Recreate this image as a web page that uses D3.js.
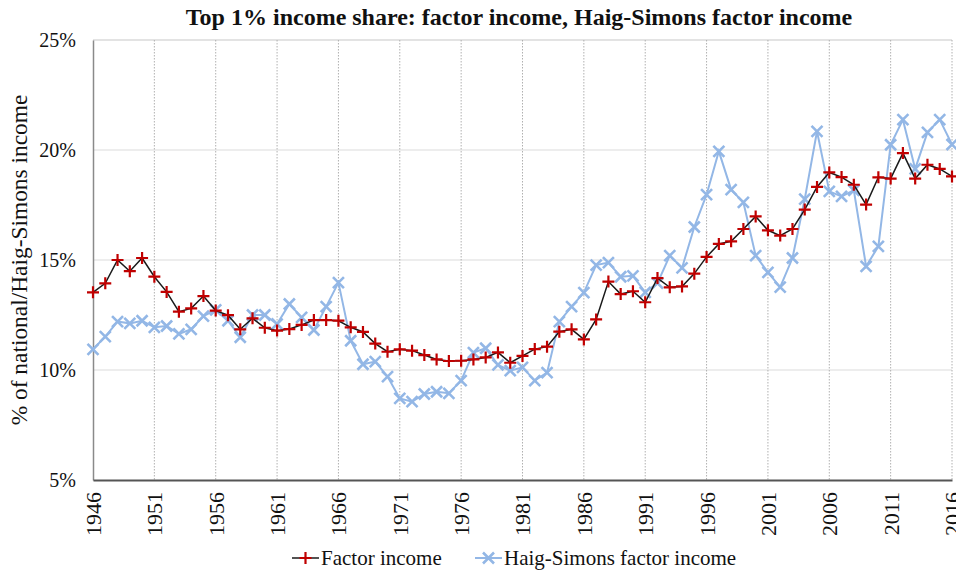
<!DOCTYPE html>
<html>
<head>
<meta charset="utf-8">
<script src="https://cdn.jsdelivr.net/npm/d3@7"></script>
<style>
  body { margin: 0; background: #fff; }
</style>
</head>
<body>
<svg id="chart" width="956" height="574"></svg>
<script>
// years 1946..2016
let years = d3.range(1946, 2017);

let factor_income = [
	13.53, 13.94, 15.00, 14.49, 15.09, 14.24, 13.55, 12.65, 12.80, 13.36,
	12.70, 12.49, 11.85, 12.35, 11.92, 11.79, 11.86, 12.05, 12.27, 12.27,
	12.24, 11.94, 11.73, 11.20, 10.83, 10.94, 10.88, 10.68, 10.48, 10.41,
	10.42, 10.48, 10.57, 10.80, 10.33, 10.64, 10.95, 11.06, 11.74, 11.85,
	11.39, 12.30, 14.02, 13.45, 13.58, 13.08, 14.18, 13.76, 13.80, 14.38,
	15.14, 15.73, 15.85, 16.41, 16.98, 16.35, 16.11, 16.41, 17.29, 18.32,
	18.98, 18.77, 18.42, 17.52, 18.76, 18.70, 19.86, 18.70, 19.33, 19.14,
	18.80
];

let hs_factor_income = [
	10.94, 11.52, 12.20, 12.12, 12.24, 11.94, 12.00, 11.64, 11.85, 12.45,
	12.73, 12.24, 11.49, 12.50, 12.50, 12.09, 13.00, 12.39, 11.82, 12.88,
	13.97, 11.33, 10.26, 10.38, 9.70, 8.71, 8.56, 8.91, 9.01, 8.94,
	9.52, 10.79, 10.99, 10.23, 9.97, 10.12, 9.52, 9.88, 12.20, 12.88,
	13.52, 14.77, 14.88, 14.24, 14.28, 13.53, 13.95, 15.20, 14.64, 16.50,
	17.97, 19.94, 18.20, 17.62, 15.20, 14.44, 13.77, 15.09, 17.77, 20.85,
	18.12, 17.89, 18.17, 14.71, 15.62, 20.24, 21.38, 19.14, 20.80, 21.38,
	20.25
];

let x_ticks = d3.range(1946, 2017, 5);
let y_ticks = [5, 10, 15, 20, 25];

let series_list = [
	{ 'name': 'Factor income', 'values': factor_income, 'line': '#1a1a1a', 'marker': '#c00000', 'shape': 'plus' },
	{ 'name': 'Haig-Simons factor income', 'values': hs_factor_income, 'line': '#93b7e6', 'marker': '#93b7e6', 'shape': 'cross' }
];

let serif = '"Liberation Serif", "Times New Roman", Times, serif';

let svg = d3.select('#chart');

let margin = { 'top': 40, 'right': 4, 'bottom': 94, 'left': 93 };
let width = +svg.attr('width') - margin.left - margin.right;
let height = +svg.attr('height') - margin.top - margin.bottom;

let chart = svg
	.append('g')
	.attr('transform', 'translate(' + margin.left + ', ' + margin.top + ')');

let x = d3.scaleLinear()
	.domain([1946, 2016])
	.range([0, 859]);

let y = d3.scaleLinear()
	.domain([5, 25])
	.range([height, 0]);

// horizontal grid
chart.append('g')
	.selectAll('line')
	.data(y_ticks.filter(d => d > 5))
	.enter()
	.append('line')
	.attr('x1', 0)
	.attr('x2', x(2016))
	.attr('y1', d => y(d))
	.attr('y2', d => y(d))
	.attr('stroke', d => d === 25 ? '#c8c8c8' : '#dcdcdc')
	.attr('stroke-width', 1.2);

// vertical dotted grid
chart.append('g')
	.selectAll('line')
	.data(x_ticks.filter(d => d > 1946))
	.enter()
	.append('line')
	.attr('x1', d => x(d))
	.attr('x2', d => x(d))
	.attr('y1', 0)
	.attr('y2', height)
	.attr('stroke', '#b0b0b0')
	.attr('stroke-width', 1)
	.attr('stroke-dasharray', '1.5,1.5');

// y axis
let yAxis = d3.axisLeft(y)
	.tickValues(y_ticks)
	.tickSize(0)
	.tickPadding(17)
	.tickFormat(d => d + '%');

let gy = chart.append('g').call(yAxis).attr('font-family', serif);
gy.select('.domain').attr('stroke', '#8a8a8a').attr('stroke-width', 1.5);
gy.selectAll('text')
	.attr('font-family', serif)
	.attr('fill', '#111')
	.style('font-size', '20px')
	.attr('dy', '0.32em');

// x axis
let xAxis = d3.axisBottom(x)
	.tickValues(x_ticks)
	.tickSize(0)
	.tickFormat(d3.format('d'));

let gx = chart.append('g')
	.attr('transform', 'translate(0, ' + height + ')')
	.call(xAxis)
	.attr('font-family', serif);
gx.select('.domain').attr('stroke', '#555').attr('stroke-width', 2);
gx.selectAll('text')
	.attr('font-family', serif)
	.attr('fill', '#111')
	.style('font-size', '22px')
	.attr('text-anchor', 'end')
	.attr('transform', 'rotate(-90)')
	.attr('x', -12)
	.attr('y', 0)
	.attr('dy', '0.34em');

// y axis title
svg.append('text')
	.attr('transform', 'translate(27, 260) rotate(-90)')
	.attr('text-anchor', 'middle')
	.attr('font-family', serif)
	.attr('fill', '#111')
	.style('font-size', '23.4px')
	.text('% of national/Haig-Simons income');

// title
svg.append('text')
	.attr('x', 519)
	.attr('y', 25)
	.attr('text-anchor', 'middle')
	.attr('font-family', serif)
	.attr('fill', '#111')
	.style('font-size', '24px')
	.style('font-weight', 'bold')
	.text('Top 1% income share: factor income, Haig-Simons factor income');

function drawMarker(g, shape, color, size) {
	let h = size / 2;
	if (shape === 'plus') {
		g.append('path')
			.attr('d', `M${-h},0H${h}M0,${-h}V${h}`)
			.attr('stroke', color)
			.attr('stroke-width', 2.2)
			.attr('fill', 'none');
	} else {
		g.append('path')
			.attr('d', `M${-h},${-h}L${h},${h}M${-h},${h}L${h},${-h}`)
			.attr('stroke', color)
			.attr('stroke-width', 2.6)
			.attr('fill', 'none');
	}
}

// draw HS first, then factor on top
[series_list[1], series_list[0]].map(function(s) {
	let line = d3.line()
		.x((d, i) => x(years[i]))
		.y(d => y(d));

	chart.append('path')
		.datum(s.values)
		.attr('fill', 'none')
		.attr('stroke', s.line)
		.attr('stroke-width', s.shape === 'plus' ? 1.5 : 2)
		.attr('d', line);

	chart.append('g')
		.selectAll('g')
		.data(s.values)
		.enter()
		.append('g')
		.attr('transform', (d, i) => 'translate(' + x(years[i]) + ',' + y(d) + ')')
		.each(function() {
			drawMarker(d3.select(this), s.shape, s.marker, s.shape === 'plus' ? 12 : 11);
		});
});

// legend
let legend = svg.append('g').attr('transform', 'translate(0, 558)');
let legend_x = [292, 475];
series_list.map(function(s, i) {
	let lg = legend.append('g').attr('transform', 'translate(' + legend_x[i] + ', 0)');
	lg.append('line')
		.attr('x1', 0).attr('x2', 27)
		.attr('y1', 0).attr('y2', 0)
		.attr('stroke', s.line)
		.attr('stroke-width', s.shape === 'plus' ? 1.5 : 2);
	let mg = lg.append('g').attr('transform', 'translate(13.5, 0)');
	drawMarker(mg, s.shape, s.marker, s.shape === 'plus' ? 12 : 11);
	lg.append('text')
		.attr('x', 29)
		.attr('y', 0)
		.attr('dy', '0.34em')
		.attr('font-family', serif)
		.attr('fill', '#111')
		.style('font-size', '21px')
		.text(s.name);
});
</script>
</body>
</html>
